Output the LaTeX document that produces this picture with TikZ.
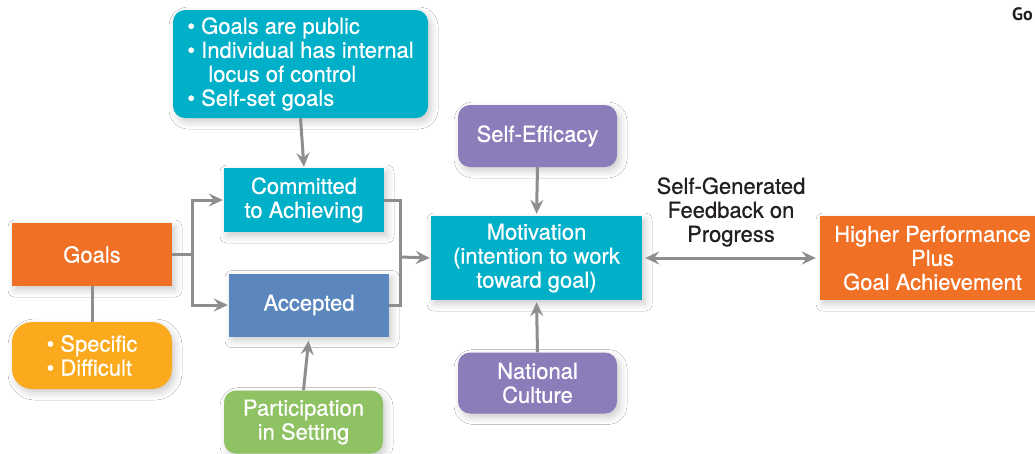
\documentclass[tikz,border=0pt]{standalone}
\usepackage{fontspec}
\setmainfont{TeX Gyre Heros}[FakeBold=0.6]
\newfontfamily\gofont{PT Sans}
\usetikzlibrary{arrows.meta,shadows.blur,calc}
\definecolor{corange}{HTML}{F07126}
\definecolor{cyellow}{HTML}{FBAA1E}
\definecolor{cteal}{HTML}{00B0C8}
\definecolor{cblue}{HTML}{5C87BE}
\definecolor{cgreen}{HTML}{8EC262}
\definecolor{cpurple}{HTML}{8A7DBA}
\definecolor{cgray}{HTML}{8E8E90}
\definecolor{ctext}{HTML}{231F20}
\begin{document}
\begin{tikzpicture}[x=1pt,y=-1pt,
  font=\fontsize{22}{24}\selectfont,
  box/.style={draw=none, text=white, inner sep=0pt, align=center,
    blur shadow={shadow xshift=3pt, shadow yshift=-4pt, shadow blur radius=7pt, shadow opacity=20}},
  rnd/.style={box, rounded corners=12pt},
  conn/.style={draw=cgray, line width=3pt},
  arr/.style={conn, -{Stealth[length=14pt,width=13pt,inset=5pt]}},
  darr/.style={conn, {Stealth[length=14pt,width=13pt,inset=5pt]}-{Stealth[length=14pt,width=13pt,inset=5pt]}},
  lbl/.style={text=ctext, align=center, inner sep=0pt}]
\useasboundingbox (0,0) rectangle (1035,453);
\fill[white] (0,0) rectangle (1035,453);
\clip (0,0) rectangle (1035,453);

\node[box, fill=corange, minimum width=160pt, minimum height=63pt] (goals) at (92,254.5) {Goals};
\node[box, fill=cyellow, rounded corners=20pt, minimum width=160pt, minimum height=67pt, align=left] (spec) at (92,355.5) {\textbullet\ Specific\\\textbullet\ Difficult};
\node[rnd, fill=cteal, minimum width=255pt, minimum height=108pt, align=left] (top) at (300.5,64) {\textbullet\ Goals are public\\\textbullet\ Individual has internal\\\hspace*{21pt}locus of control\\\textbullet\ Self-set goals};
\node[box, fill=cteal, minimum width=160pt, minimum height=64pt] (comm) at (304,200) {Committed\\to Achieving};
\node[box, fill=cblue, minimum width=160pt, minimum height=63pt] (acc) at (309,305) {Accepted};
\node[rnd, fill=cgreen, minimum width=159pt, minimum height=63pt] (part) at (303.5,422) {Participation\\in Setting};
\node[box, fill=cteal, minimum width=211pt, minimum height=84pt] (mot) at (536.5,258) {Motivation\\(intention to work\\toward goal)};
\node[rnd, fill=cpurple, minimum width=159pt, minimum height=62pt] (eff) at (537.5,136) {Self-Efficacy};
\node[rnd, fill=cpurple, minimum width=159pt, minimum height=61pt] (nat) at (537.5,383) {National\\Culture};
\node[box, fill=corange, minimum width=225pt, minimum height=84pt] (high) at (932.5,258) {Higher Performance\\Plus\\Goal Achievement};
\node[lbl] (fb) at (731,212) {Self-Generated\\Feedback on\\Progress};
\node[lbl, anchor=west, font=\gofont\bfseries\fontsize{18}{20}\selectfont] (go) at (1012,14) {Go};

\draw[conn] (goals.south) -- (spec.north);
\coordinate (j1) at (192,254.5);
\draw[conn] (goals.east) -- (j1);
\draw[arr, shorten >=1pt] (j1) |- (comm.west);
\draw[arr, shorten >=1pt] (j1) |- (acc.west);
\coordinate (j2) at (400,257);
\draw[conn] (comm.east) -| (j2);
\draw[conn] (acc.east) -| (j2);
\draw[arr, shorten >=1pt] (j2) -- (mot.west);
\draw[arr, shorten >=1pt] (top.south) -- (comm.north);
\draw[arr, shorten >=4pt] (part.north) -- (acc.south);
\draw[arr, shorten >=2pt] (eff.south) -- (mot.north);
\draw[arr, shorten >=2pt] (nat.north) -- (mot.south);
\draw[darr, shorten >=4pt, shorten <=3pt] (mot.east) -- (high.west);
\end{tikzpicture}
\end{document}
